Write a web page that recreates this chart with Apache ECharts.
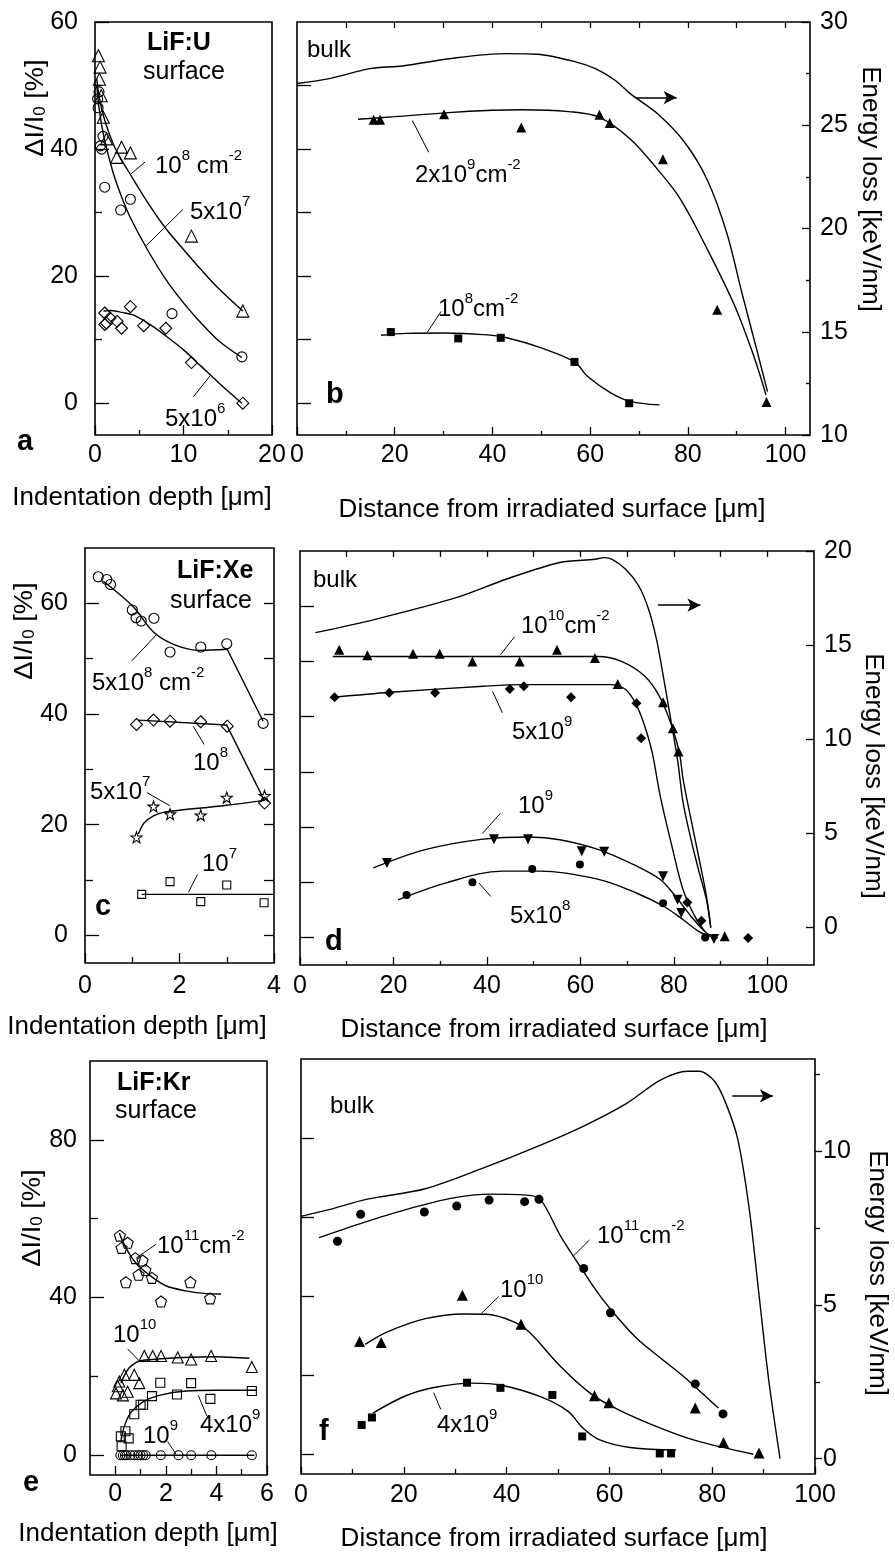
<!DOCTYPE html>
<html><head><meta charset="utf-8">
<script src="https://cdn.jsdelivr.net/npm/echarts@6/dist/echarts.min.js"></script>
<style>html,body{margin:0;padding:0;background:#fff;}#c{width:895px;height:1559px;}</style>
</head><body><div id="c"></div>
<script>
// ================= DATA =================
// Panel a  (LiF:U surface)
const aTri  = [[0.38,54.7],[0.57,52.9],[0.5,51],[0.7,48.4],[0.94,45],[1.3,41.6],[2.45,38.7],[3.0,40.3],[4.0,39.4],[10.9,26.3],[16.7,14.5]];
const aCirc = [[0.3,47.9],[0.35,46.5],[0.45,49],[0.6,40.5],[0.9,42],[0.75,40],[1.1,34],[2.9,30.4],[4.0,32.1],[8.7,14.1],[16.6,7.3]];
const aDia  = [[1.1,14.2],[1.3,12.6],[1.7,13.4],[1.1,12.4],[2.5,12.9],[3.0,11.8],[4.0,15.2],[5.5,12.2],[8.0,11.8],[10.9,6.4],[16.7,0]];
const aFit8  = [[0.2,51],[0.5,48],[1,45],[2,41],[3,38.3],[4,36],[6,31.5],[8,27.5],[10,24.2],[12,21],[14,18],[16.7,14.5]];
const aFit57 = [[0.2,50],[0.5,46],[1,42],[2,36.5],[3,32.5],[4,29.2],[6,24],[8,19.5],[10,15.8],[12,12.6],[14,9.8],[16.6,7.2]];
const aFit56 = [[0.95,14.5],[1.7,14.6],[3,14.3],[4.3,13.9],[6.2,12.4],[8,10.6],[10,8.4],[12,5.8],[14,3.2],[16.6,0]];
// Panel b  (LiF:U bulk)
const bTri  = [[15.7,44.6],[17.0,44.6],[30.1,45.5],[45.9,43.4],[61.9,45.4],[64.0,44.1],[74.9,38.4],[86.0,14.7],[96.1,0.2]];
const bFit9 = [[12.5,44.7],[20,45.1],[30.3,45.7],[40,46.1],[46.1,46.2],[55.6,45.9],[61.9,45],[68.2,41.6],[73.8,36.8],[78.5,32.1],[84,24.2],[89.6,15.3],[93.5,7.4],[96,1.3]];
const bSq   = [[19.2,11.2],[33.0,10.2],[41.7,10.3],[56.8,6.5],[68,0]];
const bFit8 = [[17.2,10.7],[22.4,11.0],[30.3,11.05],[38.2,10.8],[42.9,10.3],[50,8.7],[56.8,6.5],[59.5,4.2],[64.3,1.6],[68.2,0.3],[74.2,-0.26]];
const bBulk = [[0,27.02],[6.6,27.26],[14.9,27.74],[21.6,27.87],[32.6,28.27],[42.9,28.47],[49.2,28.44],[57.2,28.06],[61.1,27.74],[65.1,27.18],[68.2,26.53],[73.8,25.56],[79.3,24.19],[84,22.34],[88,19.76],[91.1,16.85],[94.3,13.95],[96.3,12.1]];
// Panel c  (LiF:Xe surface)
const cCirc = [[0.28,64.8],[0.46,64.3],[0.54,63.4],[1.0,58.8],[1.08,57.4],[1.19,56.8],[1.46,57.3],[1.8,51.2],[2.45,52.1],[3.0,52.7],[3.77,38.3]];
const cFitA1 = [[0.39,64],[1.02,59.4],[1.45,54.8],[1.87,52.6],[2.43,51.5],[3.01,51.7]];
const cFitA2 = [[3.01,51.7],[3.77,38.7]];
const cDia  = [[1.09,38.1],[1.45,38.9],[1.8,38.7],[2.45,38.6],[3.01,37.8],[3.8,23.9]];
const cFitB = [[1.13,38.9],[3.0,38.0],[3.8,24.3]];
const cStar = [[1.09,17.7],[1.45,23.3],[1.8,21.9],[2.45,21.7],[3.0,24.9],[3.8,25.2]];
const cFitC = [[1.13,18.3],[1.25,20.3],[1.45,21.6],[1.7,22.3],[2.0,22.6],[3.0,23.5],[3.8,24.4]];
const cSq   = [[1.2,7.4],[1.8,9.7],[2.45,6.1],[3.0,9.1],[3.79,5.9]];
const cFitD = [[1.2,7.4],[4.0,7.4]];
// Panel d  (LiF:Xe bulk)
const dTriUp = [[8.4,52.1],[14.4,51.1],[24.2,51.4],[29.9,51.4],[36.9,50.0],[47,50.0],[55,52.1],[63.1,50.6],[68,45.9],[77.7,42.6],[79.8,37.9],[81,33.7],[90.9,0.2]];
const dFit10 = [[7,50.9],[30,50.9],[63.9,50.9],[68.8,50.0],[73.8,47.3],[77.1,43.4],[79.6,38.2],[81.2,33.4],[82.0,28.6],[83.7,21.3],[85.3,14.7],[87,7.4],[87.9,1.7]];
const dDia   = [[7.4,43.5],[19.1,44.3],[28.9,44.3],[44.9,45],[47.9,45.5],[58,43.5],[72,42.4],[73,36.1],[82.9,6.3],[85.9,3.0],[95.9,-0.1]];
const dFit59 = [[7.4,43.5],[19.4,44.4],[39.2,45.5],[47.4,45.8],[66.4,45.8],[69.7,44.9],[72.1,41.9],[73.8,38.2],[75.4,33.4],[77.1,25.6],[79.6,16.5],[82,8.6],[84.5,3.8],[86.6,1.1]];
const dTriDn = [[18.6,13.5],[41.5,17.8],[48.8,17.8],[60.3,15.6],[65.1,15.5],[77.7,11.1],[80.8,6.8],[81.6,4.4],[88.6,-0.3]];
const dFit9  = [[15.7,12.6],[26.8,15.9],[39.2,17.8],[49.1,18.2],[55.6,17.7],[63.9,15.9],[72.1,12.9],[77.1,10.5],[80.4,7.4],[83.7,3.8],[87,0.8],[89.4,-0.1]];
const dCirc  = [[22.8,7.7],[36.9,10.0],[49.7,12.4],[59.9,13.2],[77.7,6.2],[86.7,0]];
const dFit58 = [[21,6.8],[30.9,9.8],[43.3,12],[51.5,12],[63.9,10.5],[72.1,8.0],[77.9,5.6],[82,3.2],[85.3,1.1],[87.8,0.2]];
const dBulk  = [[3.3,15.66],[16.1,16.37],[33.4,17.52],[44.1,18.5],[55.6,19.39],[63.1,19.56],[65.1,19.65],[66.8,19.56],[69.7,19.03],[72.5,18.14],[74.6,16.9],[76.3,15.3],[77.5,13.7],[79.1,11.4],[80.8,8.9],[82,6.6],[83.7,4.65],[85.3,3.05],[87,1.46],[87.9,0.04]];
// Panel e  (LiF:Kr surface)
const ePent = [[0.18,55.7],[0.25,52.6],[0.49,53.9],[0.79,50],[1.08,49.4],[0.92,45.8],[1.19,47],[1.45,45],[0.42,43.9],[1.81,39],[2.97,43.9],[3.75,39.8]];
const eFit11 = [[0.16,56.3],[0.42,52.6],[0.82,48.7],[1.35,45.7],[2.0,43],[2.8,41.7],[3.6,41],[4.18,40.9]];
const eTri  = [[0.03,15.7],[0.16,18.7],[0.36,20.4],[0.49,16.1],[0.75,20.4],[0.95,18.3],[1.15,25.2],[1.48,25.2],[1.81,25.2],[2.47,24.8],[3.0,24.3],[3.79,25.2],[5.4,22.4],[0.1,17.5],[0.3,15.2]];
const eFit10 = [[0.22,18.3],[0.55,22.2],[0.95,23.9],[1.48,24.3],[2.66,24.8],[3.98,25],[5.3,24.6]];
const eSq   = [[0.22,4.8],[0.4,6.1],[0.53,4.3],[0.75,10.4],[1.0,12.8],[1.1,12.8],[1.45,15],[1.78,18.4],[2.44,15.4],[3.0,18.3],[3.76,14.3],[5.4,16.3],[0.25,2.3]];
const eFit49 = [[0.22,3.5],[0.36,7.4],[0.62,10.9],[1.08,13.5],[1.74,15.2],[2.8,16.3],[4.0,16.5],[5.57,16.5]];
const eCirc = [[0.2,0],[0.3,0],[0.38,0],[0.45,0],[0.6,0],[0.75,0],[0.9,0],[1.0,0],[1.1,0],[1.2,0],[1.8,0],[2.5,0],[3.0,0],[3.8,0],[5.4,0]];
const eFit9 = [[0.2,0],[5.5,0]];
// Panel f  (LiF:Kr bulk)
const fCirc = [[7.1,53.9],[11.6,60.7],[24,61.3],[30.3,62.8],[36.6,64.3],[43.5,63.9],[46.3,64.5],[55,47],[60.2,35.8],[76.7,17.8],[82.1,10.2]];
const fFit11 = [[3.5,54.8],[11.4,58.3],[20.4,61.9],[29.4,64.8],[36.9,65.8],[44.4,65.5],[46.7,64.3],[50.5,55.2],[53.5,49.1],[58,40.4],[61.8,34.3],[65.5,29.1],[70,24.3],[74.5,19.6],[79,14.3],[81.2,11.7]];
const fTri  = [[11.4,28.5],[15.6,28.3],[31.4,40.2],[42.8,32.9],[57.1,14.8],[59.9,13],[76.7,11.7],[82.2,3],[89.1,0.3]];
const fFit10 = [[12.5,27.8],[16.7,30.9],[24.2,34.3],[31.7,35.5],[36.2,35.4],[41.4,33.5],[44.4,30.9],[50.5,22.2],[56.5,15.2],[61.7,11.3],[69.2,7],[76.7,3.5],[88,0]];
const fSq   = [[11.8,7.4],[13.8,9.3],[32.3,18.1],[38.8,16.8],[48.9,15],[54.7,4.5],[69.8,0.2],[72,0.2]];
const fFit49 = [[14,10.4],[20.4,14.8],[26.4,17],[33.2,18],[39.2,17.4],[46.7,14.5],[51.9,10.9],[54.95,6.5],[58,3.7],[64,1.7],[73,1.1]];
const fBulk = [[0,7.88],[5.4,8.1],[12.9,8.44],[24.2,8.78],[35.4,9.45],[45.9,10.15],[55,10.82],[63.2,11.54],[70,12.32],[75.2,12.6],[77.5,12.6],[80.5,12.27],[82.7,11.54],[85,10.37],[87.2,8.13],[89.1,5.34],[91,2.55],[93.2,0]];
// Leader lines (data coordinates) and arrows
const aLeaders = [[[4.07,36.1],[5.66,37.96]],[[5.74,24.73],[9.93,30.5]],[[11.13,1.04],[13.0,4.3]]];
const bLeaders = [[[23.6,44.5],[26.95,39.5]],[[26.7,11.2],[29.5,14.46]]];
const cLeaders = [[[0.99,49.6],[1.52,54.4]],[[2.29,37.8],[2.52,34.5]],[[1.31,25.8],[1.8,23.4]],[[2.19,7.8],[2.38,11.0]]];
const dLeaders = [[[42.9,51.2],[45.9,54.45]],[[41.2,44.6],[43.3,40.7]],[[39.0,18.8],[42.9,22.5]],[[38.3,9.86],[40.8,7.43]]];
const eLeaders = [[[0.82,50.0],[1.61,53.5]],[[0.49,26.98],[0.95,23.9]],[[3.28,15.2],[3.62,10.0]],[[2.07,3.5],[2.4,0.26]]];
const fLeaders = [[[53.1,50.3],[56.1,54.2]],[[35.07,35.58],[38.45,39.9]],[[25.8,15.6],[27.2,11.3]]];
const bArrow = [[69.4,26.34],[77.7,26.34]];
const dArrow = [[76.6,17.12],[85.7,17.12]];
const fArrow = [[83.9,11.8],[91.8,11.8]];
// Tick labels
const aXLab = [0,10,20], aYLab = [0,20,40,60];
const bXLab = [0,20,40,60,80,100], bRLab = [10,15,20,25,30];
const cXLab = [0,2,4], cYLab = [0,20,40,60];
const dXLab = [0,20,40,60,80,100], dRLab = [0,5,10,15,20];
const eXLab = [0,2,4,6], eYLab = [0,40,80];
const fXLab = [0,20,40,60,80,100], fRLab = [0,5,10];

// ================= BUILD =================
const F = "'Liberation Sans', Arial, Helvetica, sans-serif";
const TICKFONT = 25;
const xAxes = [], yAxes = [], series = [], graphics = [];
function mk(grid, min, max, pos, ticks, len, inside, labels, margin) {
  return {
    type: 'value', gridIndex: grid, min: min, max: max, position: pos,
    axisLine: { show: false, onZero: false },
    splitLine: { show: false },
    axisTick: (ticks && ticks.length) ? { show: true, inside: inside, length: len, customValues: ticks, lineStyle: { color: '#000', width: 1.3 } } : { show: false },
    axisLabel: (labels && labels.length) ? { show: true, customValues: labels, color: '#000', fontSize: TICKFONT, fontFamily: F, margin: margin } : { show: false },
    axisPointer: { show: false }
  };
}
function X(o) { xAxes.push(o); return xAxes.length - 1; }
function Y(o) { yAxes.push(o); return yAxes.length - 1; }
function sc(xi, yi, data, symbol, size, filled, rot) {
  series.push({ type: 'scatter', xAxisIndex: xi, yAxisIndex: yi, data: data, symbol: symbol, symbolSize: size, symbolRotate: rot || 0,
    itemStyle: { color: filled ? '#000' : 'rgba(255,255,255,0)', borderColor: '#000', borderWidth: filled ? 0 : 1.1, opacity: 1 },
    z: 5, silent: true });
}
function ln(xi, yi, data, smooth, extra) {
  const s = { type: 'line', xAxisIndex: xi, yAxisIndex: yi, data: data, symbol: 'none', showSymbol: false,
    smooth: smooth, lineStyle: { color: '#000', width: 1.4 }, z: 4, silent: true };
  if (extra) Object.assign(s, extra);
  series.push(s);
}
function leaders(xi, yi, arr) { arr.forEach(function (l) { ln(xi, yi, l, false, { lineStyle: { color: '#000', width: 1 } }); }); }
function arrowML(arr) {
  return { silent: true, symbol: ['none', 'arrow'], symbolSize: [10, 13], label: { show: false },
    lineStyle: { color: '#000', width: 1.6, type: 'solid' }, emphasis: { disabled: true },
    data: [[{ coord: arr[0] }, { coord: arr[1] }]] };
}
const STAR = 'path://M50,2 L61.8,36.2 L97.6,36.2 L68.6,57.6 L79.4,92 L50,71 L20.6,92 L31.4,57.6 L2.4,36.2 L38.2,36.2 Z';
const PENT = 'path://M50,2 L97.6,36.5 L79.4,92.5 L20.6,92.5 L2.4,36.5 Z';

const grids = [
  { left: 95, top: 22, width: 177, height: 413 },
  { left: 297, top: 22, width: 513, height: 413 },
  { left: 85, top: 548, width: 189, height: 415 },
  { left: 300, top: 551, width: 514, height: 414 },
  { left: 90, top: 1061, width: 177, height: 414 },
  { left: 301, top: 1059, width: 514, height: 415 }
].map(function (g) { return Object.assign(g, { show: true, borderColor: '#000', borderWidth: 1.6, backgroundColor: 'rgba(0,0,0,0)' }); });

// ---- panel a
const xa = X(mk(0, 0, 20, 'bottom', [0, 10, 20], 10, true, aXLab, 8));
X(mk(0, 0, 20, 'bottom', [5, 15], 5, true, null));
const ya = Y(mk(0, -5, 60, 'left', [0, 20, 40, 60], 14, true, aYLab, 17));
Y(mk(0, -5, 60, 'left', [10, 30, 50], 7, true, null));
ln(xa, ya, aFit8, 0.35); ln(xa, ya, aFit57, 0.35); ln(xa, ya, aFit56, 0.35);
leaders(xa, ya, aLeaders);
sc(xa, ya, aTri, 'triangle', 12, false); sc(xa, ya, aCirc, 'circle', 10, false); sc(xa, ya, aDia, 'diamond', 12, false);

// ---- panel b
const xb = X(mk(1, 0, 105, 'bottom', [0, 20, 40, 60, 80, 100], 8, true, bXLab, 8));
X(mk(1, 0, 105, 'bottom', [10, 30, 50, 70, 90], 4, true, null));
X(mk(1, 0, 105, 'top', [10, 20, 30, 40, 50, 60, 70, 80, 90, 100], 6, true, null));
const ybL = Y(mk(1, -5, 60, 'left', [0, 10, 20, 30, 40, 50], 14, true, null));
const ybR = Y(mk(1, 10, 30, 'right', [10, 15, 20, 25, 30], 8, true, bRLab, 10));
Y(mk(1, 10, 30, 'right', [12.5, 17.5, 22.5, 27.5], 4, true, null));
ln(xb, ybR, bBulk, 0.3, { markLine: arrowML(bArrow) });
ln(xb, ybL, bFit9, 0.35); ln(xb, ybL, bFit8, 0.35);
leaders(xb, ybL, bLeaders);
sc(xb, ybL, bTri, 'triangle', 10, true); sc(xb, ybL, bSq, 'rect', 8, true);

// ---- panel c
const xc = X(mk(2, 0, 4, 'bottom', [0, 2, 4], 10, true, cXLab, 11));
X(mk(2, 0, 4, 'bottom', [1, 3], 6, true, null));
const yc = Y(mk(2, -5, 70, 'left', [0, 20, 40, 60], 14, true, cYLab, 17));
Y(mk(2, -5, 70, 'left', [10, 30, 50], 8, true, null));
Y(mk(2, -5, 70, 'right', [0, 10, 20, 30, 40, 50, 60], 10, true, null));
ln(xc, yc, cFitA1, 0.35); ln(xc, yc, cFitA2, false); ln(xc, yc, cFitB, false); ln(xc, yc, cFitC, 0.35); ln(xc, yc, cFitD, false);
leaders(xc, yc, cLeaders);
sc(xc, yc, cCirc, 'circle', 10, false); sc(xc, yc, cDia, 'diamond', 12, false); sc(xc, yc, cStar, STAR, 11, false); sc(xc, yc, cSq, 'rect', 8, false);

// ---- panel d
const xd = X(mk(3, 0, 110, 'bottom', [0, 20, 40, 60, 80, 100], 8, true, dXLab, 9));
X(mk(3, 0, 110, 'bottom', [10, 30, 50, 70, 90], 4, true, null));
X(mk(3, 0, 110, 'top', [10, 20, 30, 40, 50, 60, 70, 80, 90, 100], 6, true, null));
const ydL = Y(mk(3, -5, 70, 'left', [0, 10, 20, 30, 40, 50, 60], 14, true, null));
const ydR = Y(mk(3, -2, 20, 'right', [0, 5, 10, 15, 20], 8, true, dRLab, 10));
ln(xd, ydR, dBulk, 0.3, { markLine: arrowML(dArrow) });
ln(xd, ydL, dFit10, 0.35); ln(xd, ydL, dFit59, 0.35); ln(xd, ydL, dFit9, 0.35); ln(xd, ydL, dFit58, 0.35);
leaders(xd, ydL, dLeaders);
sc(xd, ydL, dTriUp, 'triangle', 10, true); sc(xd, ydL, dDia, 'diamond', 10, true);
sc(xd, ydL, dTriDn, 'triangle', 10, true, 180); sc(xd, ydL, dCirc, 'circle', 8, true);

// ---- panel e
const xe = X(mk(4, -1, 6, 'bottom', [0, 2, 4, 6], 9, true, eXLab, 7));
X(mk(4, -1, 6, 'bottom', [1, 3, 5], 6, true, null));
const ye = Y(mk(4, -5, 100, 'left', [0, 40, 80], 14, true, eYLab, 13));
Y(mk(4, -5, 100, 'left', [20, 60], 8, true, null));
ln(xe, ye, eFit11, 0.35); ln(xe, ye, eFit10, 0.35); ln(xe, ye, eFit49, 0.35); ln(xe, ye, eFit9, false);
leaders(xe, ye, eLeaders);
sc(xe, ye, ePent, PENT, 11, false); sc(xe, ye, eTri, 'triangle', 11, false); sc(xe, ye, eSq, 'rect', 9, false); sc(xe, ye, eCirc, 'circle', 9, false);

// ---- panel f
const xf = X(mk(5, 0, 100, 'bottom', [0, 20, 40, 60, 80, 100], 7, true, fXLab, 9));
X(mk(5, 0, 100, 'bottom', [10, 30, 50, 70, 90], 5, true, null));
const yfL = Y(mk(5, -5, 100, 'left', [0, 20, 40, 60, 80], 13, true, null));
const yfR = Y(mk(5, -0.5, 13, 'right', [0, 5, 10], 7, false, fRLab, 8));
Y(mk(5, -0.5, 13, 'right', [2.5, 7.5, 12.5], 5, false, null));
ln(xf, yfR, fBulk, 0.3, { markLine: arrowML(fArrow) });
ln(xf, yfL, fFit11, 0.3); ln(xf, yfL, fFit10, 0.35); ln(xf, yfL, fFit49, 0.35);
leaders(xf, yfL, fLeaders);
sc(xf, yfL, fCirc, 'circle', 9, true); sc(xf, yfL, fTri, 'triangle', 11, true); sc(xf, yfL, fSq, 'rect', 8, true);

// ---- texts
const RICH = {
  n: { fontSize: 24, fontFamily: F, lineHeight: 30, verticalAlign: 'bottom', fill: '#000' },
  s: { fontSize: 15, fontFamily: F, lineHeight: 15, verticalAlign: 'top', fill: '#000' },
  t: { fontSize: 26, fontFamily: F, lineHeight: 32, verticalAlign: 'bottom', fill: '#000' },
  u: { fontSize: 16, fontFamily: F, lineHeight: 16, verticalAlign: 'bottom', fill: '#000' }
};
function T(x, y, text, o) {
  o = o || {};
  graphics.push({ type: 'text', x: x, y: y, rotation: o.rot || 0, silent: true, z: 100,
    scaleX: o.sx || 1, scaleY: 1,
    style: { text: text, fontSize: o.size || 24, fontFamily: F, fontWeight: o.bold ? 'bold' : 'normal', fill: '#000',
      align: o.align || 'left', verticalAlign: 'middle', rich: RICH } });
}
const YT = '{t|ΔI/I}{u|0}{t| [%]}';
const ET = 'Energy loss [keV/nm]';
const XI = 'Indentation depth [μm]';
const XD = 'Distance from irradiated surface [μm]';
// a
T(147, 43, 'LiF:U', { bold: true, size: 25 }); T(143, 72, 'surface', { size: 25 });
T(155, 163, '{n|10}{s|8}{n| cm}{s|-2}'); T(190, 209, '{n|5x10}{s|7}'); T(165, 416, '{n|5x10}{s|6}');
T(17, 442, 'a', { bold: true, size: 29 });
T(33, 108, YT, { rot: Math.PI / 2, align: 'center', sx: 1.05 });
T(142, 498, XI, { align: 'center', size: 26 });
// b
T(307, 50, 'bulk', { size: 24 });
T(415, 172, '{n|2x10}{s|9}{n|cm}{s|-2}'); T(438, 306, '{n|10}{s|8}{n|cm}{s|-2}');
T(326, 395, 'b', { bold: true, size: 29 });
T(870, 189, ET, { rot: -Math.PI / 2, align: 'center', size: 26 });
T(552, 510, XD, { align: 'center', size: 26 });
// c
T(177, 571, 'LiF:Xe', { bold: true, size: 25 }); T(170, 601, 'surface', { size: 25 });
T(92, 680, '{n|5x10}{s|8}{n| cm}{s|-2}'); T(193, 760, '{n|10}{s|8}'); T(90, 789, '{n|5x10}{s|7}'); T(202, 861, '{n|10}{s|7}');
T(95, 907, 'c', { bold: true, size: 29 });
T(22, 631, YT, { rot: Math.PI / 2, align: 'center', sx: 1.05 });
T(137, 1027, XI, { align: 'center', size: 26 });
// d
T(313, 580, 'bulk', { size: 24 });
T(521, 623, '{n|10}{s|10}{n|cm}{s|-2}'); T(512, 729, '{n|5x10}{s|9}'); T(518, 803, '{n|10}{s|9}'); T(510, 913, '{n|5x10}{s|8}');
T(325, 942, 'd', { bold: true, size: 29 });
T(873, 776, ET, { rot: -Math.PI / 2, align: 'center', size: 26 });
T(554, 1030, XD, { align: 'center', size: 26 });
// e
T(117, 1083, 'LiF:Kr', { bold: true, size: 25 }); T(115, 1111, 'surface', { size: 25 });
T(157, 1243, '{n|10}{s|11}{n|cm}{s|-2}'); T(113, 1332, '{n|10}{s|10}'); T(200, 1422, '{n|4x10}{s|9}'); T(143, 1433, '{n|10}{s|9}');
T(23, 1483, 'e', { bold: true, size: 29 });
T(30, 1218, YT, { rot: Math.PI / 2, align: 'center', sx: 1.05 });
T(148, 1534, XI, { align: 'center', size: 26 });
// f
T(330, 1106, 'bulk', { size: 24 });
T(597, 1233, '{n|10}{s|11}{n|cm}{s|-2}'); T(500, 1287, '{n|10}{s|10}'); T(437, 1422, '{n|4x10}{s|9}');
T(319, 1432, 'f', { bold: true, size: 29 });
T(877, 1273, ET, { rot: -Math.PI / 2, align: 'center', size: 26 });
T(554, 1539, XD, { align: 'center', size: 26 });

const chart = echarts.init(document.getElementById('c'), null, { renderer: 'canvas' });
chart.setOption({
  animation: false,
  backgroundColor: '#fff',
  textStyle: { fontFamily: F },
  grid: grids,
  xAxis: xAxes,
  yAxis: yAxes,
  series: series,
  graphic: { elements: graphics }
});
</script></body></html>
